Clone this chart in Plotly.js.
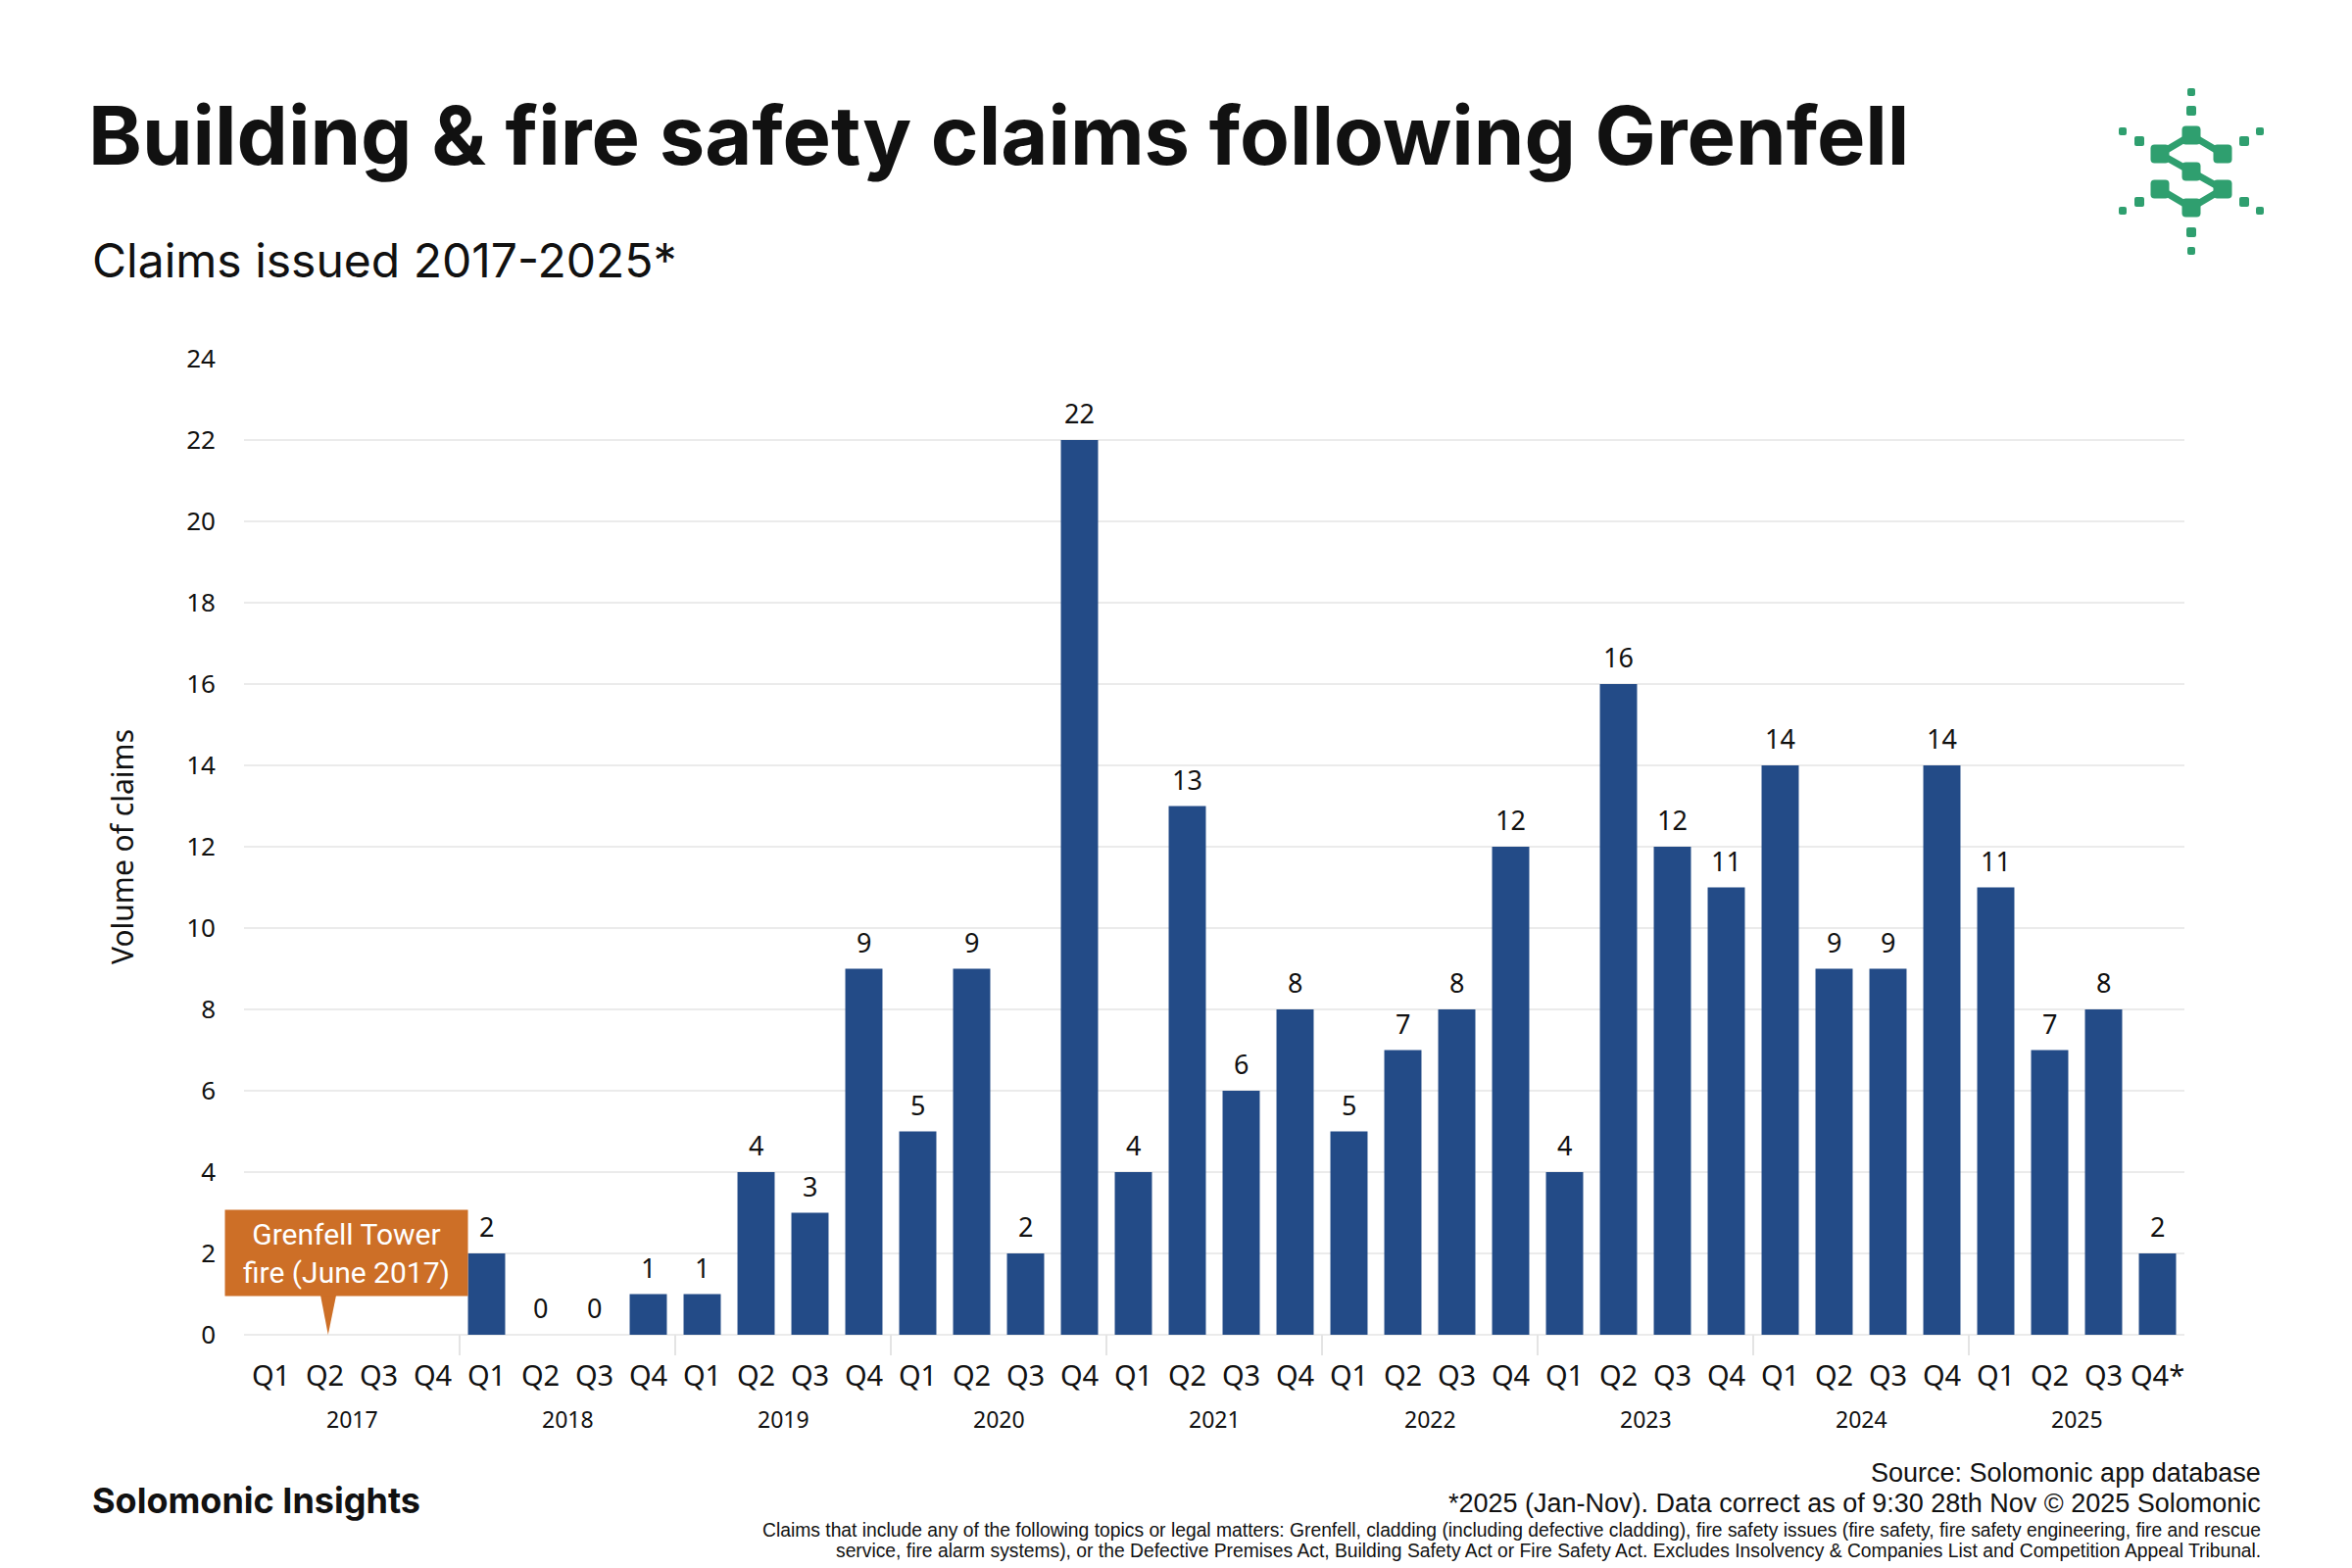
<!DOCTYPE html>
<html><head><meta charset="utf-8">
<script src="https://cdn.plot.ly/plotly-3.0.1.min.js"></script>
<style>html,body{margin:0;padding:0;background:#fff;} #chart{width:2400px;height:1600px;}</style>
</head><body><div id="chart"></div>
<script>
// ---- data ----
const years = ['2017','2018','2019','2020','2021','2022','2023','2024','2025'];
const quarters = ['Q1','Q2','Q3','Q4'];
const claims = [null,null,null,null, 2,0,0,1, 1,4,3,9, 5,9,2,22, 4,13,6,8, 5,7,8,12, 4,16,12,11, 14,9,9,14, 11,7,8,2];
const lastQuarterLabel = 'Q4*';
const yTickValues = [0,2,4,6,8,10,12,14,16,18,20,22,24];
const titleText = 'Building &amp; fire safety claims following Grenfell';
const subtitleText = 'Claims issued 2017-2025*';
const yAxisTitle = 'Volume of claims';
const calloutText = 'Grenfell Tower<br>fire (June 2017)';
const brandText = 'Solomonic Insights';
const sourceText = 'Source: Solomonic app database';
const noteText = '*2025 (Jan-Nov). Data correct as of 9:30 28th Nov © 2025 Solomonic';
const smallLine1 = 'Claims that include any of the following topics or legal matters: Grenfell, cladding (including defective cladding), fire safety issues (fire safety, fire safety engineering, fire and rescue';
const smallLine2 = 'service, fire alarm systems), or the Defective Premises Act, Building Safety Act or Fire Safety Act. Excludes Insolvency &amp; Companies List and Competition Appeal Tribunal.';

// ---- derived ----
const categories = [];
const tickText = [];
years.forEach(y => quarters.forEach(q => { categories.push(y + ' ' + q); tickText.push(q); }));
tickText[tickText.length - 1] = lastQuarterLabel;

const W = 2400, H = 1600;
const M = {l: 249, r: 171, t: 366, b: 238};
const PW = W - M.l - M.r, PH = H - M.t - M.b;
const px2x = px => (px - M.l) / PW;
const px2y = py => (H - M.b - py) / PH;

const FONT = 'Noto Sans, sans-serif';
const TITLEFONT = 'Inter, Lato, sans-serif';
const ARIAL = 'Liberation Sans, Arial, sans-serif';
const BAR = '#234B87';
const ORANGE = '#CD6F27';
const GREEN = '#2F9F6F';

const trace = {
  type: 'bar',
  x: categories,
  y: claims,
  marker: {color: BAR},
  hoverinfo: 'none'
};

const shapes = [];
for (let k = 1; k < years.length; k++) {
  const xb = k * quarters.length - 0.5;
  shapes.push({type: 'line', xref: 'x', yref: 'paper', x0: xb, x1: xb, y0: 0, y1: -0.021,
    line: {color: '#e4e4e4', width: 2}});
}
// callout pointer
shapes.push({type: 'path', xref: 'x', yref: 'y', path: 'M0.90,1.1 L1.23,1.1 L1.06,0 Z',
  fillcolor: ORANGE, line: {width: 0}});

const annotations = [];
// value labels above bars
categories.forEach((c, i) => {
  if (claims[i] === null) return;
  annotations.push({xref: 'x', yref: 'y', x: c, y: claims[i], yanchor: 'bottom', yshift: 7,
    text: String(claims[i]), showarrow: false, font: {family: FONT, size: 27, color: '#111'}});
});
years.forEach((y, k) => {
  annotations.push({xref: 'x', yref: 'paper', x: k * quarters.length + 1.5, y: px2y(1448),
    yanchor: 'middle', text: y, showarrow: false, font: {family: FONT, size: 23, color: '#111'}});
});
annotations.push({xref: 'x', yref: 'y', x: 1.40, y: 2.02, text: calloutText, showarrow: false,
  bgcolor: ORANGE, width: 247, height: 87, borderpad: 0, align: 'center', valign: 'middle',
  font: {family: 'Roboto, sans-serif', size: 30, color: '#fff'}});
annotations.push({xref: 'paper', yref: 'paper', x: px2x(92), y: px2y(265), xanchor: 'left', yanchor: 'middle',
  text: subtitleText, showarrow: false, font: {family: TITLEFONT, size: 48, color: '#111'}});
annotations.push({xref: 'paper', yref: 'paper', x: px2x(92), y: px2y(1531), xanchor: 'left', yanchor: 'middle',
  text: brandText, showarrow: false, font: {family: TITLEFONT, size: 36, weight: 700, color: '#111'}});
[[sourceText, 1503, 27], [noteText, 1534, 27], [smallLine1, 1561, 19.3], [smallLine2, 1582, 19.3]].forEach(([t, yy, s]) => {
  annotations.push({xref: 'paper', yref: 'paper', x: px2x(2309), y: px2y(yy), xanchor: 'right', yanchor: 'middle',
    text: t, showarrow: false, font: {family: ARIAL, size: s, color: '#111'}});
});

// logo (decorative)
const sq = (cx, cy, s, r) => `<rect x='${cx - s/2}' y='${cy - s/2}' width='${s}' height='${s}' rx='${r}' ry='${r}'/>`;
const nodes = {T:[86,58], LU:[54,77], RU:[118,77], Mi:[86,95], LL:[54,113], RL:[118,113], B:[86,132]};
const links = [['T','LU'],['T','RU'],['LU','Mi'],['Mi','RL'],['LL','B'],['B','RL']];
let svg = `<svg xmlns='http://www.w3.org/2000/svg' width='170' height='190' viewBox='0 0 170 190'><g fill='${GREEN}' stroke='none'>`;
links.forEach(([a, b]) => { svg += `<line x1='${nodes[a][0]}' y1='${nodes[a][1]}' x2='${nodes[b][0]}' y2='${nodes[b][1]}' stroke='${GREEN}' stroke-width='7'/>`; });
Object.values(nodes).forEach(([cx, cy]) => { svg += sq(cx, cy, 19, 4); });
[[86,14,8],[86,33,10],[86,157,10],[86,176,8],[33,64,10],[16,54,8],[140,64,10],[156,54,8],[33,126,10],[16,135,8],[140,126,10],[156,135,8]]
  .forEach(([cx, cy, s]) => { svg += sq(cx, cy, s, 2); });
svg += `</g></svg>`;

const layout = {
  width: W, height: H,
  margin: M,
  paper_bgcolor: '#fff', plot_bgcolor: '#fff',
  showlegend: false,
  bargap: 0.31,
  title: {text: titleText, font: {family: TITLEFONT, size: 83, weight: 700, color: '#111'},
    xref: 'container', yref: 'container', x: 90 / W, xanchor: 'left', y: 1 - 139 / H, yanchor: 'middle'},
  xaxis: {type: 'category', range: [-0.5, categories.length - 0.5], autorange: false,
    tickvals: categories, ticktext: tickText, showgrid: false, zeroline: false,
    showline: false, ticks: '', tickfont: {family: FONT, size: 29, color: '#111'}, ticklabelstandoff: 22,
    fixedrange: true},
  yaxis: {range: [0, 24], autorange: false, tickvals: yTickValues, showgrid: true, gridcolor: '#ebebeb', gridwidth: 2,
    zeroline: true, zerolinecolor: '#ebebeb', zerolinewidth: 2, showline: false, ticks: '',
    tickfont: {family: FONT, size: 26, color: '#111'}, ticklabelstandoff: 28,
    title: {text: yAxisTitle, font: {family: FONT, size: 30, color: '#111'}, standoff: 44}, fixedrange: true},
  shapes: shapes,
  annotations: annotations,
  images: [{source: 'data:image/svg+xml;charset=utf-8,' + encodeURIComponent(svg), xref: 'paper', yref: 'paper',
    x: px2x(2150), y: px2y(80), sizex: 170 / PW, sizey: 190 / PH, xanchor: 'left', yanchor: 'top',
    sizing: 'stretch', layer: 'above'}]
};

Plotly.newPlot('chart', [trace], layout, {displayModeBar: false, staticPlot: true});
</script></body></html>
